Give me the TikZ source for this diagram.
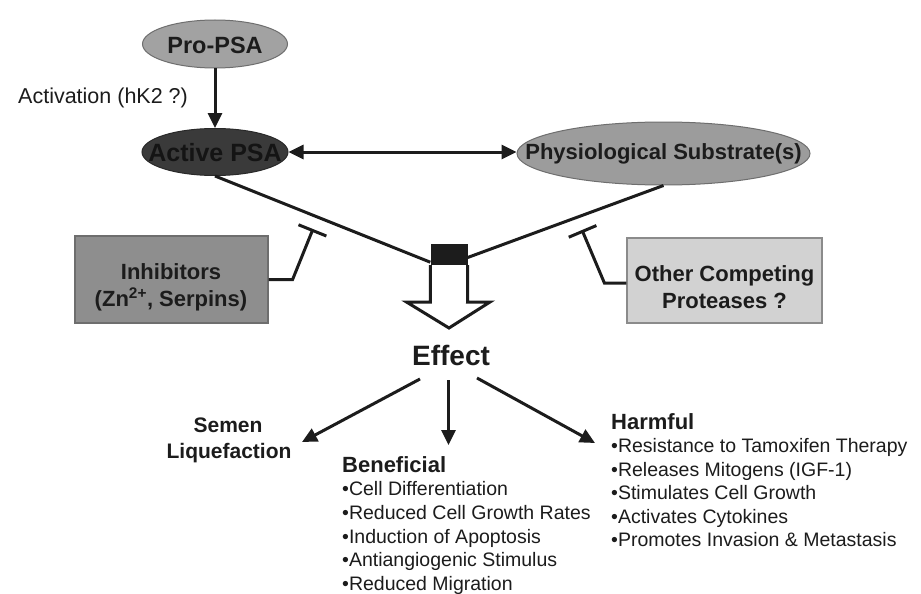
\documentclass[tikz,border=0pt]{standalone}
\usepackage{fontspec}
\setmainfont{Liberation Sans}
\usetikzlibrary{shapes.geometric,arrows.meta,calc}
\definecolor{ink}{HTML}{1C1C1C}
\definecolor{edge}{HTML}{6E6E6E}
\definecolor{profill}{HTML}{A2A2A2}
\definecolor{actfill}{HTML}{3A3A3A}
\definecolor{acttext}{HTML}{141414}
\definecolor{physfill}{HTML}{9C9C9C}
\definecolor{inhfill}{HTML}{8E8E8E}
\definecolor{othfill}{HTML}{D2D2D2}
\begin{document}
\begin{tikzpicture}[x=1pt,y=-1pt,
  txt/.style={text=ink, inner sep=0pt},
  lbl/.style={txt, font=\bfseries\fontsize{22}{27}\selectfont},
  bul/.style={txt, font=\fontsize{19.5}{23.5}\selectfont, anchor=base west},
  hd/.style={txt, font=\bfseries\fontsize{22}{26}\selectfont, anchor=base west},
  conn/.style={line width=3pt, draw=ink},
  arr/.style={conn, -{Triangle[length=15pt,width=14pt]}},
  dblarr/.style={conn, {Triangle[length=15pt,width=14pt]}-{Triangle[length=15pt,width=14pt]}},
  tbar/.style={conn, -{Bar[width=30pt]}},
  ell/.style={ellipse, draw=edge, line width=1pt, inner sep=0pt},
  boxn/.style={rectangle, draw=edge, line width=1.2pt, inner sep=0pt}
]
\useasboundingbox (0,0) rectangle (921,594);
\fill[white] (0,0) rectangle (921,594);

% ellipses
\node[ell, fill=profill, minimum width=145, minimum height=48] (pro) at (215,44) {};
\node[lbl, font=\bfseries\fontsize{23.5}{28}\selectfont] (protxt) at (215,45) {Pro-PSA};
\node[ell, fill=actfill, draw=actfill!70!black, minimum width=146, minimum height=47] (act) at (215,152) {};
\node[lbl, text=acttext, font=\bfseries\fontsize{25}{30}\selectfont] (acttxt) at (215,153) {Active PSA};
\node[ell, fill=physfill, minimum width=293, minimum height=63] (phys) at (663.5,153.5) {};
\node[lbl] (phystxt) at (663.5,154) {Physiological Substrate(s)};

\node[txt, anchor=base west, font=\fontsize{21.5}{26}\selectfont] (activ) at (18,103) {Activation (hK2 ?)};

\draw[arr] (pro) -- (act);
\draw[dblarr] (act.east) -- (act.east -| phys.west);

% boxes
\node[boxn, fill=inhfill, minimum width=193, minimum height=87] (inh) at (171.5,279.5) {};
\node[lbl, align=center] (inhtxt) at (171,287) {Inhibitors\\(Zn\textsuperscript{2+}, Serpins)};
\node[boxn, fill=othfill, draw=edge!80, minimum width=195, minimum height=85] (oth) at (724.5,280.5) {};
\node[lbl, align=center] (othtxt) at (724.5,287) {Other Competing\\Proteases ?};

% junction box and block arrow
\node[rectangle, fill=ink, minimum width=37, minimum height=21, inner sep=0pt] (blk) at (449,254.5) {};
\coordinate (btip) at (449,328);
\draw[line width=3pt, draw=ink, fill=white, line join=miter]
  (blk.south west) -- ++(0,37) -- ++(-23.5,0) -- (btip) -- ++(41,-26) -- ++(-22.5,0) -- (blk.south east);
\node[rectangle, fill=ink, minimum width=37, minimum height=21, inner sep=0pt] (blk2) at (blk) {};

\draw[conn] (act.south) -- ($(blk.south west)+(0,-3)$);
\draw[conn] ($(blk.east)+(0,3)$) -- (phys.south);

% inhibition bars
\coordinate (t1) at (313,229);
\coordinate (t2) at (582,230);
\draw[tbar] (inh.east) -- ++(24,0) -- (t1);
\draw[tbar] ($(oth.west)+(0,2.5)$) -- ++(-22,0) -- (t2);

% effect
\node[txt, anchor=base, font=\bfseries\fontsize{28}{34}\selectfont] (eff) at (451,365) {Effect};
\coordinate (e1) at (420,379);
\coordinate (e2) at (448.5,380);
\coordinate (e3) at (477,378);
\coordinate (semtip) at (302,442);
\coordinate (bentip) at (448.5,445);
\coordinate (hartip) at (595,443);
\draw[arr] (e1) -- (semtip);
\draw[arr] (e2) -- (bentip);
\draw[arr] (e3) -- (hartip);

\node[lbl, anchor=base, font=\bfseries\fontsize{21}{26}\selectfont] (sem1) at (228,432) {Semen};
\node[lbl, anchor=base, font=\bfseries\fontsize{21}{26}\selectfont] (sem2) at (229,458) {Liquefaction};

\node[hd] (benh) at (342,472) {Beneficial};
\foreach \t [count=\i] in {Cell Differentiation, Reduced Cell Growth Rates, Induction of Apoptosis, Antiangiogenic Stimulus, Reduced Migration}
  \node[bul] (ben\i) at (342,472+23.7*\i) {•\t};

\node[hd] (harh) at (611,429) {Harmful};
\foreach \t [count=\i] in {Resistance to Tamoxifen Therapy, Releases Mitogens (IGF-1), Stimulates Cell Growth, Activates Cytokines, Promotes Invasion \& Metastasis}
  \node[bul] (har\i) at (611,429+23.5*\i) {•\t};
\end{tikzpicture}
\end{document}
